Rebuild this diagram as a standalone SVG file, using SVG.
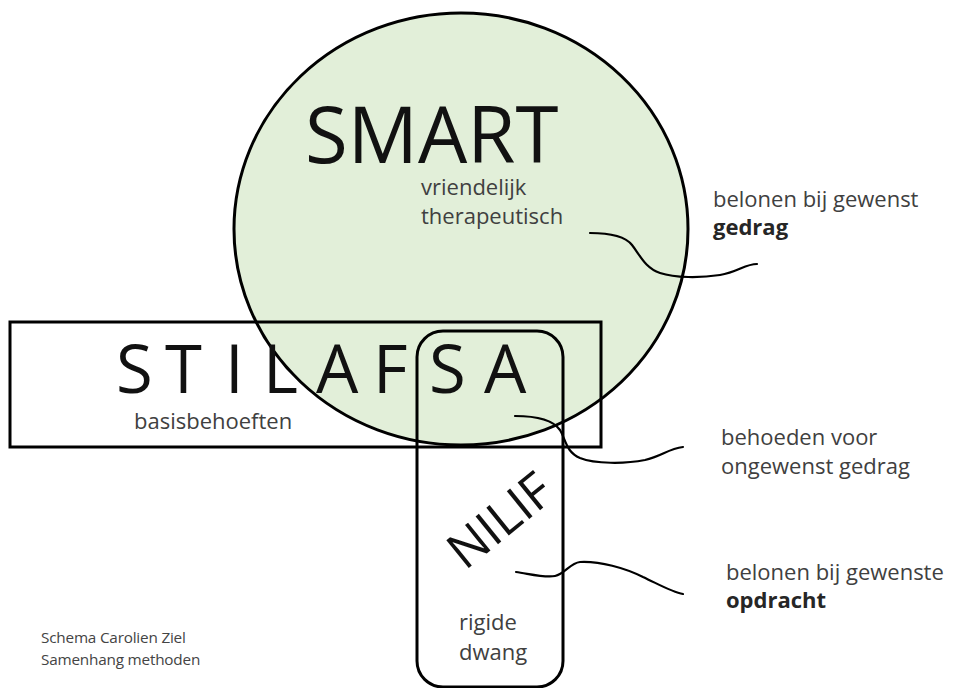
<svg xmlns="http://www.w3.org/2000/svg" width="953" height="688" viewBox="0 0 953 688">
  <style>
    .shape { fill: none; stroke: #000; stroke-width: 3; }
    .big { font-family: "Open Sans", "Noto Sans", sans-serif; fill: #111; }
    .small { font-family: "Open Sans", "Noto Sans", sans-serif; font-size: 22px; fill: #404040; }
    .bold { font-weight: bold; fill: #262626; }
    .foot { font-family: "Open Sans", "Noto Sans", sans-serif; font-size: 15.3px; fill: #444; letter-spacing: -0.2px; }
    .wire { fill: none; stroke: #000; stroke-width: 2.2; stroke-linecap: round; stroke-linejoin: round; }
  </style>
  <rect x="0" y="0" width="953" height="688" fill="#fff"/>

  <g id="smart">
    <ellipse cx="461" cy="229" rx="227" ry="216" fill="#e2efd9" stroke="#000" stroke-width="3"/>
    <text class="big" x="305" y="163" font-size="78">SMART</text>
    <text class="small" x="421" y="195">vriendelijk</text>
    <text class="small" x="421" y="224">therapeutisch</text>
  </g>

  <g id="stilafsa">
    <rect class="shape" x="10" y="322" width="591" height="125"/>
    <text class="big" font-size="67" y="393" x="116 165 225 263 316 373 429 484">STILAFSA</text>
    <text class="small" x="134" y="429">basisbehoeften</text>
  </g>

  <g id="nilif">
    <rect class="shape" x="417" y="331" width="146" height="356" rx="26" ry="26"/>
    <text class="big" font-size="50" transform="translate(465,571) rotate(-39)">NILIF</text>
    <text class="small" x="459" y="630">rigide</text>
    <text class="small" x="459" y="660">dwang</text>
  </g>

  <g id="label-gedrag">
    <text class="small" x="713" y="207">belonen bij gewenst</text>
    <text class="small bold" x="713" y="235">gedrag</text>
  </g>

  <g id="label-behoeden">
    <text class="small" x="721" y="445">behoeden voor</text>
    <text class="small" x="721" y="474">ongewenst gedrag</text>
  </g>

  <g id="label-opdracht">
    <text class="small" x="726" y="580">belonen bij gewenste</text>
    <text class="small bold" x="726" y="608">opdracht</text>
  </g>

  <g id="footer">
    <text class="foot" x="41" y="643">Schema Carolien Ziel</text>
    <text class="foot" x="41" y="665">Samenhang methoden</text>
  </g>

  <g id="connectors">
    <path class="wire" d="M590,233 C610,233 625,236 632,245 C640,255 645,268 660,273 C675,278 700,278 720,275 C738,272 745,264 757,264"/>
    <path class="wire" d="M515,416 C535,416 553,420 560,430 C566,440 566,452 580,458 C595,464 625,464 645,460 C662,456 668,449 683,447"/>
    <path class="wire" d="M516,572 C530,574 545,578 555,576 C565,574 570,563 580,562 C600,561 625,568 643,577 C660,585 672,592 683,594"/>
  </g>
</svg>
